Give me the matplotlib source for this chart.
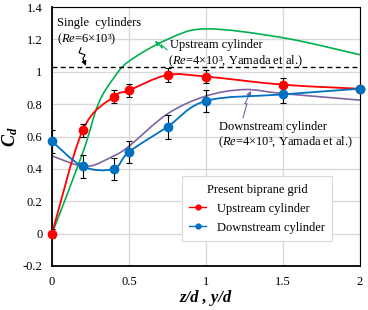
import numpy as np
import matplotlib
matplotlib.use("Agg")
import matplotlib.pyplot as plt
from matplotlib.path import Path
from matplotlib.patches import PathPatch
from matplotlib.lines import Line2D
from matplotlib.ticker import FuncFormatter

plt.rcParams["font.family"] = "Liberation Serif"
plt.rcParams["mathtext.fontset"] = "custom"
plt.rcParams["mathtext.rm"] = "Liberation Serif"
plt.rcParams["mathtext.it"] = "Liberation Serif:italic"
plt.rcParams["mathtext.bf"] = "Liberation Serif:bold"
plt.rcParams["mathtext.bfit"] = "Liberation Serif:italic:bold"

# ---- data ----
pos = [0, 0.2, 0.4, 0.5, 0.75, 1.0, 1.5, 2.0]
cd_up = [0.0, 0.64, 0.845, 0.885, 0.98, 0.97, 0.92, 0.895]
err_up = [0.03, 0.04, 0.04, 0.04, 0.045, 0.04, 0.04, 0.0]
cd_down = [0.57, 0.415, 0.40, 0.505, 0.66, 0.82, 0.86, 0.895]
err_down = [0.07, 0.07, 0.067, 0.07, 0.075, 0.07, 0.05, 0.0]

yam_up_x = [0, 0.2, 0.3, 0.4, 0.5, 0.75, 1.0, 1.5, 2.0]
yam_up_y = [0.0, 0.50, 0.80, 0.96, 1.065, 1.20, 1.265, 1.21, 1.105]
yam_down_x = [0, 0.22, 0.4, 0.5, 0.75, 1.0, 1.25, 1.5, 2.0]
yam_down_y = [0.48, 0.415, 0.48, 0.54, 0.74, 0.85, 0.89, 0.865, 0.825]

single_cd = 1.03

xticks = [0, 0.5, 1, 1.5, 2]
yticks = [-0.2, 0, 0.2, 0.4, 0.6, 0.8, 1.0, 1.2, 1.4]


def smooth_path(x, y):
    # excel-like smoothed line as cubic bezier segments
    p = np.column_stack([x, y]).astype(float)
    verts = [p[0]]
    codes = [Path.MOVETO]
    n = len(p)
    for i in range(n - 1):
        p0 = p[i - 1] if i > 0 else p[i]
        p1, p2 = p[i], p[i + 1]
        p3 = p[i + 2] if i + 2 < n else p[i + 1]
        verts += [p1 + (p2 - p0) / 6, p2 - (p3 - p1) / 6, p2]
        codes += [Path.CURVE4] * 3
    return Path(verts, codes)


def px(xp, yp):
    # pixel position in the picture -> data coords (used for annotation anchors)
    return ((xp - 52) / 154.0, (234 - yp) / 162.0)


fig = plt.figure(figsize=(3.68, 3.10), dpi=100)
ax = fig.add_axes([52 / 368, 1 - 266 / 310, 308 / 368, 259 / 310])

ax.set_xlim(0, 2)
ax.set_ylim(-0.2, 1.4)
ax.set_xticks(xticks)
ax.set_yticks(yticks)
ax.xaxis.set_major_formatter(FuncFormatter(lambda v, p: "%g" % v))
ax.yaxis.set_major_formatter(FuncFormatter(lambda v, p: "%g" % v))
ax.tick_params(length=0, labelsize=9, pad=7)
ax.grid(True, color="#d9d9d9", lw=1.0)
ax.set_axisbelow(True)
for s in ["top", "right"]:
    ax.spines[s].set_linewidth(0.8)
for s in ["left", "bottom"]:
    ax.spines[s].set_linewidth(1.3)

# Yamada et al. curves
ax.add_patch(PathPatch(smooth_path(yam_up_x, yam_up_y), fill=False,
                       ec="#00B050", lw=1.2, zorder=2))
ax.add_patch(PathPatch(smooth_path(yam_down_x, yam_down_y), fill=False,
                       ec="#8064A2", lw=1.2, zorder=2))

# single cylinder
ax.axhline(single_cd, color="black", ls=(0, (3.5, 2.5)), lw=1.0, zorder=3)

# present data
ax.add_patch(PathPatch(smooth_path(pos, cd_up), fill=False,
                       ec="#FF0000", lw=1.3, zorder=4))
ax.add_patch(PathPatch(smooth_path(pos, cd_down), fill=False,
                       ec="#0070C0", lw=1.3, zorder=4))
ax.errorbar(pos, cd_up, yerr=err_up, fmt="none", ecolor="black",
            elinewidth=0.8, capsize=2.5, capthick=0.8, zorder=5)
ax.errorbar(pos, cd_down, yerr=err_down, fmt="none", ecolor="black",
            elinewidth=0.8, capsize=2.5, capthick=0.8, zorder=5)
ax.plot(pos, cd_up, "o", color="#FF0000", ms=6, zorder=6, clip_on=False)
ax.plot(pos, cd_down, "o", color="#0070C0", ms=6, zorder=6, clip_on=False)

# text labels
fs = 9
ax.text(*px(57, 23), "Single  cylinders", fontsize=fs, va="center", ha="left")
ax.text(*px(57, 40), "(" + r"$\mathit{Re}$" + "=6×10³)", fontsize=fs,
        va="center", ha="left")
ax.text(*px(170, 45), "Upstream cylinder", fontsize=fs, va="center", ha="left")
ax.text(*px(168, 62), "(" + r"$\mathit{Re}$" + "=4×10³, Yamada et al.)",
        fontsize=fs, va="center", ha="left")
ax.text(*px(219, 127), "Downstream cylinder", fontsize=fs, va="center", ha="left")
ax.text(*px(218, 143), "(" + r"$\mathit{Re}$" + "=4×10³, Yamada et al.)",
        fontsize=fs, va="center", ha="left")


def zigzag(pts, color):
    d = [px(*p) for p in pts]
    xs, ys = zip(*d[:-1])
    ax.plot(xs, ys, color=color, lw=0.8, zorder=6)
    ax.annotate("", xy=d[-1], xytext=d[-2],
                arrowprops=dict(arrowstyle="-|>", color=color, lw=0.8,
                                mutation_scale=7, shrinkA=0, shrinkB=0))


zigzag([(81, 48), (79, 53), (85, 55), (83, 59), (86, 66)], "black")
zigzag([(167, 50), (161, 45), (162, 48), (155, 41)], "#00B050")
zigzag([(243, 118), (247, 104), (245, 104), (251, 91)], "#8064A2")

# legend
handles = [
    Line2D([], [], color="#FF0000", marker="o", ms=3.5, lw=1.0),
    Line2D([], [], color="#0070C0", marker="o", ms=3.5, lw=1.0),
]
leg = ax.legend(handles, ["Upstream cylinder", "Downstream cylinder"],
                title="Present biprane grid", loc="lower left",
                bbox_to_anchor=(0.422, 0.096), borderaxespad=0,
                fontsize=fs, title_fontsize=fs, handlelength=1.3,
                handletextpad=0.9, borderpad=0.6, labelspacing=0.55,
                fancybox=False, framealpha=1, edgecolor="#d9d9d9")
leg.get_frame().set_linewidth(0.8)

ax.set_xlabel("z/d , y/d", fontsize=12, fontweight="bold", fontstyle="italic",
              labelpad=2)
ax.set_ylabel(r"$\mathbfit{C_d}$", fontsize=13, labelpad=2)

fig.savefig("out.png", dpi=100)
